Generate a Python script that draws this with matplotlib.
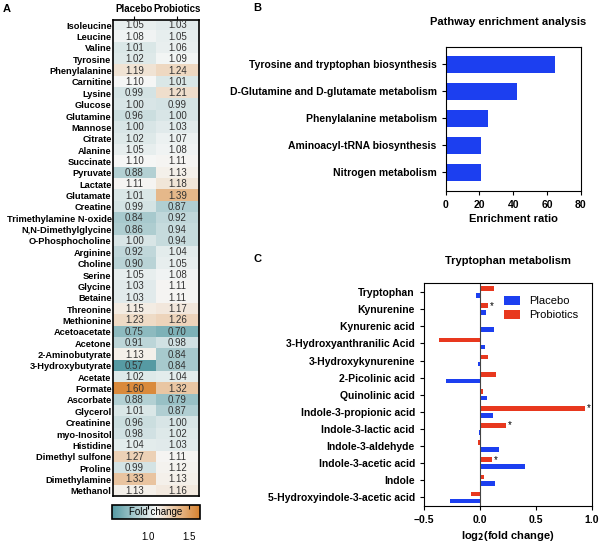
import matplotlib
matplotlib.use("Agg")
import matplotlib.pyplot as plt
import numpy as np
from matplotlib.colors import LinearSegmentedColormap, Normalize

plt.rcParams['font.family'] = ['Liberation Sans', 'DejaVu Sans']

# panel A: fold change heatmap
metabolites = ["Isoleucine", "Leucine", "Valine", "Tyrosine", "Phenylalanine", "Carnitine",
               "Lysine", "Glucose", "Glutamine", "Mannose", "Citrate", "Alanine", "Succinate",
               "Pyruvate", "Lactate", "Glutamate", "Creatine", "Trimethylamine N-oxide",
               "N,N-Dimethylglycine", "O-Phosphocholine", "Arginine", "Choline", "Serine",
               "Glycine", "Betaine", "Threonine", "Methionine", "Acetoacetate", "Acetone",
               "2-Aminobutyrate", "3-Hydroxybutyrate", "Acetate", "Formate", "Ascorbate",
               "Glycerol", "Creatinine", "myo-Inositol", "Histidine", "Dimethyl sulfone",
               "Proline", "Dimethylamine", "Methanol"]
fc_placebo = [1.05, 1.08, 1.01, 1.02, 1.19, 1.10, 0.99, 1.00, 0.96, 1.00, 1.02, 1.05, 1.10,
              0.88, 1.11, 1.01, 0.99, 0.84, 0.86, 1.00, 0.92, 0.90, 1.05, 1.03, 1.03, 1.15,
              1.23, 0.75, 0.91, 1.13, 0.57, 1.02, 1.60, 0.88, 1.01, 0.96, 0.98, 1.04, 1.27,
              0.99, 1.33, 1.13]
fc_probiotics = [1.03, 1.05, 1.06, 1.09, 1.24, 1.01, 1.21, 0.99, 1.00, 1.03, 1.07, 1.08, 1.11,
                 1.13, 1.18, 1.39, 0.87, 0.92, 0.94, 0.94, 1.04, 1.05, 1.08, 1.11, 1.11, 1.17,
                 1.26, 0.70, 0.98, 0.84, 0.84, 1.04, 1.32, 0.79, 0.87, 1.00, 1.02, 1.03, 1.11,
                 1.12, 1.13, 1.16]
groups = ["Placebo", "Probiotics"]

# panel B: pathway enrichment
pathways = ["Tyrosine and tryptophan biosynthesis", "D-Glutamine and D-glutamate metabolism",
            "Phenylalanine metabolism", "Aminoacyl-tRNA biosynthesis", "Nitrogen metabolism"]
enrichment = [64.5, 42.4, 25.3, 21.0, 21.0]

# panel C: tryptophan metabolism, log2 fold change
trp_names = ["Tryptophan", "Kynurenine", "Kynurenic acid", "3-Hydroxyanthranilic Acid",
             "3-Hydroxykynurenine", "2-Picolinic acid", "Quinolinic acid",
             "Indole-3-propionic acid", "Indole-3-lactic acid", "Indole-3-aldehyde",
             "Indole-3-acetic acid", "Indole", "5-Hydroxyindole-3-acetic acid"]
log2_placebo = [-0.036, 0.057, 0.126, 0.045, -0.018, -0.30, 0.063, 0.12, -0.005, 0.17,
                0.40, 0.135, -0.27]
log2_probiotics = [0.123, 0.072, 0.0, -0.365, 0.075, 0.147, 0.027, 0.94, 0.23, -0.015,
                   0.105, 0.04, -0.08]
signif = [False, True, False, False, False, False, False, True, True, False, True, False, False]

blue = '#1c3ff0'
red = '#e8381e'

fig = plt.figure(figsize=(6, 5.45), dpi=100)

# ---- A ----
cmap = LinearSegmentedColormap.from_list('fc', ['#5499a2', '#f6f7f6', '#d8822e'])
norm = Normalize(vmin=0.56, vmax=1.64)
data = np.array([fc_placebo, fc_probiotics]).T

axA = fig.add_axes([0.1883, 0.0890, 0.1433, 0.8752])
axA.imshow(data, aspect='auto', cmap=cmap, norm=norm, interpolation='nearest')
for i in range(data.shape[0]):
    for j in range(data.shape[1]):
        axA.text(j, i, "%.2f" % data[i, j], ha='center', va='center', fontsize=7, color='#333333')
axA.set_yticks(range(len(metabolites)))
axA.set_yticklabels(metabolites, fontsize=6.7, fontweight='bold')
axA.set_xticks(range(len(groups)))
axA.set_xticklabels(groups, fontsize=7, fontweight='bold')
axA.xaxis.tick_top()
axA.tick_params(axis='y', length=0, pad=1)
axA.tick_params(axis='x', length=3, pad=1)
for s in axA.spines.values():
    s.set_linewidth(1.2)

cax = fig.add_axes([0.1867, 0.0477, 0.1467, 0.0257])
cb = fig.colorbar(plt.cm.ScalarMappable(norm=norm, cmap=cmap), cax=cax, orientation='horizontal')
cb.set_ticks([1.0, 1.5])
cb.ax.tick_params(direction='in', top=True, bottom=False, labelbottom=True, length=3,
                  labelsize=7, pad=9)
cb.outline.set_linewidth(1.2)
cax.text(0.5, 0.5, "Fold change", transform=cax.transAxes, ha='center', va='center', fontsize=7)

fig.text(3 / 600, 1 - 9 / 545, "A", fontsize=8, fontweight='bold', va='center')

# ---- B ----
axB = fig.add_axes([0.7428, 0.650, 0.225, 0.2642])
axB.barh(range(len(pathways)), enrichment, height=0.62, color=blue)
axB.set_ylim(4.68, -0.65)
axB.set_xlim(0, 80)
axB.set_xticks([0, 20, 40, 60, 80])
axB.set_yticks(range(len(pathways)))
axB.set_yticklabels(pathways, fontsize=7, fontweight='bold')
axB.tick_params(labelsize=7.5, length=3)
for lab in axB.get_xticklabels():
    lab.set_fontweight('bold')
axB.set_xlabel("Enrichment ratio", fontsize=8, fontweight='bold', labelpad=3)
fig.text(508 / 600, 1 - 22 / 545, "Pathway enrichment analysis", fontsize=8,
         fontweight='bold', ha='center', va='center')
fig.text(253 / 600, 1 - 8 / 545, "B", fontsize=8, fontweight='bold', va='center')

# ---- C ----
axC = fig.add_axes([0.7067, 0.0716, 0.2795, 0.4097])
pos = np.arange(len(trp_names))
axC.barh(pos - 0.2, log2_probiotics, height=0.27, color=red, label="Probiotics")
axC.barh(pos + 0.2, log2_placebo, height=0.27, color=blue, label="Placebo")
for i, s in enumerate(signif):
    if s:
        axC.text(log2_probiotics[i] + 0.02, pos[i] - 0.2, "*", fontsize=7, va='center', ha='left')
axC.axvline(0, color='#444444', lw=0.8)
axC.set_ylim(12.5, -0.55)
axC.set_xlim(-0.5, 1.0)
axC.set_xticks([-0.5, 0.0, 0.5, 1.0])
axC.set_yticks(pos)
axC.set_yticklabels(trp_names, fontsize=7.2, fontweight='bold')
axC.tick_params(labelsize=7.5, length=3)
for lab in axC.get_xticklabels():
    lab.set_fontweight('bold')
axC.set_xlabel("log$_\\mathbf{2}$(fold change)", fontsize=8, fontweight='bold', labelpad=3)
h, l = axC.get_legend_handles_labels()
axC.legend(h[::-1], l[::-1], loc='upper right', fontsize=8, frameon=False,
           handlelength=1.5, handleheight=0.9, labelspacing=0.3, borderaxespad=0.8)
fig.text(508 / 600, 1 - 261 / 545, "Tryptophan metabolism", fontsize=8,
         fontweight='bold', ha='center', va='center')
fig.text(253 / 600, 1 - 259 / 545, "C", fontsize=8, fontweight='bold', va='center')

fig.savefig("out.png", dpi=100)
